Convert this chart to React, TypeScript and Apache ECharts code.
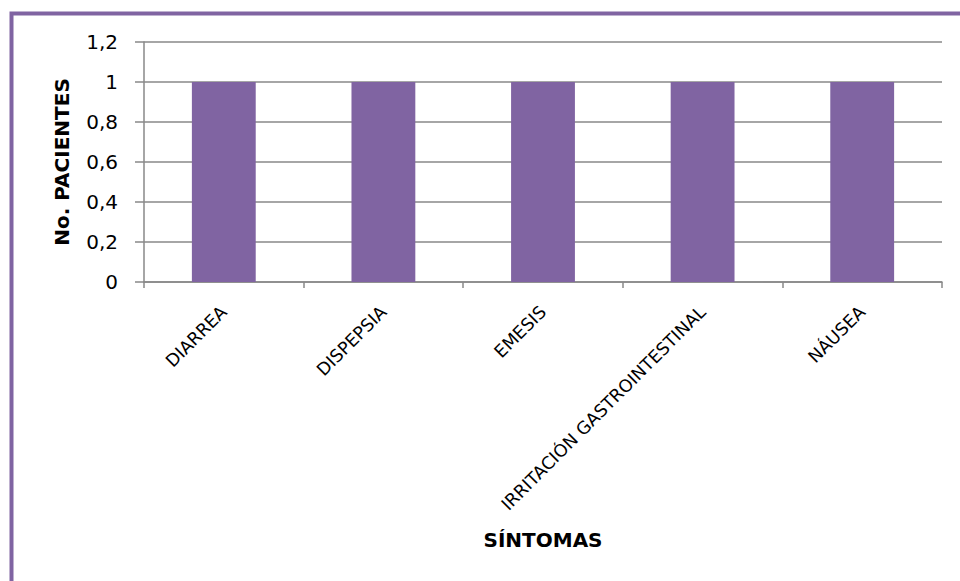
import React, { useEffect, useRef } from "react";
import * as echarts from "echarts";

const categories = ["DIARREA", "DISPEPSIA", "EMESIS", "IRRITACIÓN GASTROINTESTINAL", "NÁUSEA"];
const values = [1, 1, 1, 1, 1];
const yTicks = { min: 0, max: 1.2, interval: 0.2 };
const yAxisName = "No. PACIENTES";
const xAxisName = "SÍNTOMAS";

const FONT = "DejaVu Sans";

export default function App() {
  const ref = useRef<HTMLDivElement>(null);
  useEffect(() => {
    document.body.style.margin = "0";
    if (!ref.current) return;
    const chart = echarts.init(ref.current, undefined, { renderer: "svg" });
    chart.setOption({
      animation: false,
      backgroundColor: "#ffffff",
      graphic: [
        {
          type: "rect",
          shape: { x: 11.5, y: 13.5, width: 1200, height: 1200 },
          style: { fill: "none", stroke: "#8064A2", lineWidth: 4 },
          silent: true,
        },
      ],
      grid: { left: 144, right: 18, top: 42, bottom: 299, containLabel: false },
      xAxis: {
        type: "category",
        data: categories,
        name: xAxisName,
        nameLocation: "middle",
        nameGap: 248,
        nameTextStyle: { fontFamily: FONT, fontSize: 20, fontWeight: "bold", color: "#000" },
        axisLine: { lineStyle: { color: "#888", width: 1.5 } },
        axisTick: { show: true, length: 6, alignWithLabel: false, lineStyle: { color: "#888", width: 1.5 } },
        axisLabel: {
          interval: 0,
          rotate: 45,
          margin: 27,
          fontFamily: FONT,
          fontSize: 17.5,
          color: "#000",
        },
      },
      yAxis: {
        type: "value",
        min: yTicks.min,
        max: yTicks.max,
        interval: yTicks.interval,
        name: yAxisName,
        nameLocation: "middle",
        nameGap: 72,
        nameTextStyle: { fontFamily: FONT, fontSize: 20, fontWeight: "bold", color: "#000" },
        axisLine: { show: true, lineStyle: { color: "#888", width: 1.5 } },
        axisTick: { show: true, length: 9, lineStyle: { color: "#888", width: 1.5 } },
        splitLine: { show: true, lineStyle: { color: "#888", width: 1.5 } },
        axisLabel: {
          margin: 26,
          fontFamily: FONT,
          fontSize: 20,
          color: "#000",
          formatter: (v: number) => String(Number(v.toFixed(1))).replace(".", ","),
        },
      },
      series: [
        {
          type: "bar",
          data: values,
          barWidth: "40%",
          itemStyle: { color: "#8064A2" },
        },
      ],
    });
    return () => chart.dispose();
  }, []);
  return <div ref={ref} style={{ width: 960, height: 581 }} />;
}
